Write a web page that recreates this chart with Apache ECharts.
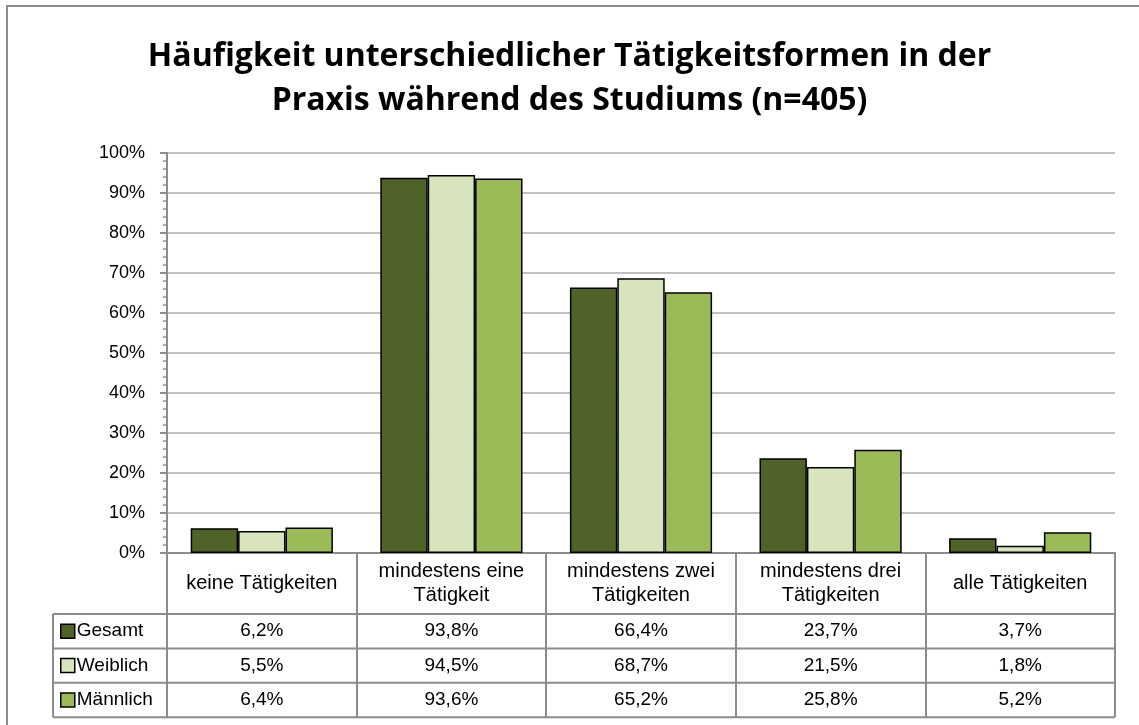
<!DOCTYPE html>
<html>
<head>
<meta charset="utf-8">
<script src="https://cdn.jsdelivr.net/npm/echarts@6/dist/echarts.min.js"></script>
<style>
  html, body { margin: 0; padding: 0; background: #fff; }
  #main { width: 1139px; height: 725px; }
</style>
</head>
<body>
<div id="main"></div>
<script>
var categories = ['keine Tätigkeiten', 'mindestens eine\nTätigkeit', 'mindestens zwei\nTätigkeiten', 'mindestens drei\nTätigkeiten', 'alle Tätigkeiten'];
var seriesNames = ['Gesamt', 'Weiblich', 'Männlich'];
var gesamt = [6.2, 93.8, 66.4, 23.7, 3.7];
var weiblich = [5.5, 94.5, 68.7, 21.5, 1.8];
var maennlich = [6.4, 93.6, 65.2, 25.8, 5.2];
var colors = ['#4F6228', '#D7E4BD', '#9BBB59'];

var font = 'Liberation Sans';
var lineColor = '#8C8C8C';

// Tabellen-Geometrie (unterhalb des Diagramms)
var gridLeft = 167, gridRight = 24, gridTop = 153, gridBottom = 172;
var axisY = 725 - gridBottom;       // 553
var headerBottom = 614;
var rowH = 34.4;
var tableLeft = 53;
var tableRight = 1139 - gridRight;

function fmt(v) {
    return v.toFixed(1).replace('.', ',') + '%';
}

var allData = [gesamt, weiblich, maennlich];

var myChart = echarts.init(document.getElementById('main'));

// Werte-Zeilen als zusätzliche Kategorie-Achsen unten
var xAxes = [{
    type: 'category',
    data: categories,
    position: 'bottom',
    axisLine: { show: true, lineStyle: { color: lineColor, width: 2 } },
    axisTick: { show: true, length: 717 - axisY, lineStyle: { color: lineColor, width: 2 } },
    axisLabel: {
        margin: (headerBottom - axisY) / 2,
        verticalAlign: 'middle',
        fontFamily: font, fontSize: 20, color: '#000', lineHeight: 24,
        interval: 0
    },
    splitLine: { show: false }
}];
for (var r = 0; r < allData.length; r++) {
    xAxes.push({
        type: 'category',
        data: allData[r].map(fmt),
        position: 'bottom',
        offset: headerBottom - axisY + rowH * r + rowH / 2,
        axisLine: { show: false },
        axisTick: { show: false },
        axisLabel: {
            margin: 0,
            verticalAlign: 'middle',
            fontFamily: font, fontSize: 19, color: '#000',
            interval: 0
        },
        splitLine: { show: false }
    });
}

var series = [];
for (var i = 0; i < seriesNames.length; i++) {
    series.push({
        name: seriesNames[i],
        type: 'bar',
        data: allData[i],
        barGap: '0%',
        barCategoryGap: '25%',
        itemStyle: { color: colors[i], borderColor: '#000', borderWidth: 1.5 }
    });
}

// Tabellenlinien
var graphics = [{
    type: 'rect',
    shape: { x: 7, y: 6, width: 1300, height: 900 },
    style: { fill: 'none', stroke: '#8C8C8C', lineWidth: 2 },
    silent: true
}];
for (var k = 0; k <= 3; k++) {
    var yy = headerBottom + rowH * k;
    graphics.push({
        type: 'line',
        shape: { x1: tableLeft, y1: yy, x2: tableRight, y2: yy },
        style: { stroke: lineColor, lineWidth: 2 },
        silent: true
    });
}
graphics.push({
    type: 'line',
    shape: { x1: tableLeft, y1: headerBottom, x2: tableLeft, y2: headerBottom + rowH * 3 },
    style: { stroke: lineColor, lineWidth: 2 },
    silent: true
});

var option = {
    animation: false,
    title: {
        text: 'Häufigkeit unterschiedlicher Tätigkeitsformen in der\nPraxis während des Studiums (n=405)',
        left: 'center',
        top: 30,
        textStyle: {
            fontFamily: 'Open Sans', fontWeight: 'bold', fontSize: 32,
            color: '#000', lineHeight: 44
        }
    },
    legend: {
        orient: 'vertical',
        left: tableLeft + 7,
        top: headerBottom,
        itemGap: 0,
        itemWidth: 14,
        itemHeight: 14,
        icon: 'rect',
        padding: 0,
        itemStyle: { borderColor: '#000', borderWidth: 1.5 },
        textStyle: { fontFamily: font, fontSize: 19, color: '#000', lineHeight: rowH, padding: [0, 0, 0, -3] },
        data: seriesNames
    },
    grid: { left: gridLeft, right: gridRight, top: gridTop, bottom: gridBottom, containLabel: false },
    xAxis: xAxes,
    yAxis: {
        type: 'value',
        min: 0, max: 100, interval: 10,
        axisLine: { show: true, lineStyle: { color: lineColor, width: 2 } },
        axisTick: { show: true, length: 7, lineStyle: { color: lineColor, width: 2 } },
        minorTick: { show: true, splitNumber: 5, length: 4, lineStyle: { color: lineColor, width: 1.5 } },
        axisLabel: {
            formatter: '{value}%', fontFamily: font, fontSize: 18, color: '#000', margin: 22
        },
        splitLine: { show: true, lineStyle: { color: '#C0C0C0', width: 2 } }
    },
    series: series,
    graphic: graphics
};
myChart.setOption(option);
</script>
</body>
</html>
